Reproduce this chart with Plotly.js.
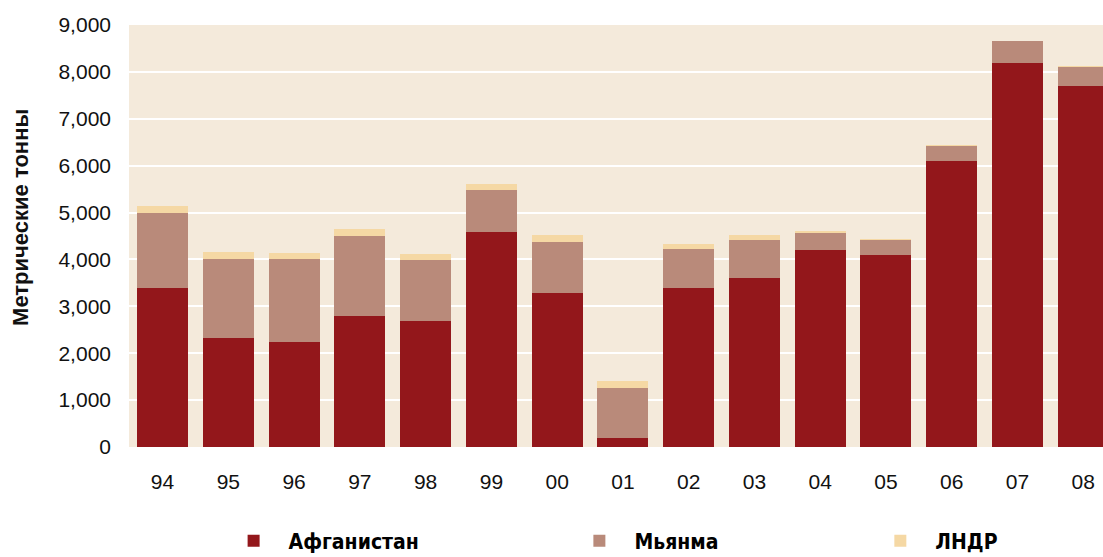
<!DOCTYPE html>
<html>
<head>
<meta charset="utf-8">
<script src="https://cdn.plot.ly/plotly-3.0.1.min.js"></script>
<style>
  html, body { margin: 0; padding: 0; background: #fff; }
  #chart { width: 1103px; height: 557px; }
</style>
</head>
<body>
<div id="chart"></div>
<script>
const years = ['94', '95', '96', '97', '98', '99', '00', '01', '02', '03', '04', '05', '06', '07', '08'];
const afghanistan = [3400, 2330, 2248, 2800, 2693, 4575, 3276, 185, 3400, 3600, 4200, 4100, 6100, 8200, 7700];
const myanmar = [1600, 1670, 1760, 1690, 1303, 897, 1087, 1080, 828, 810, 370, 312, 315, 460, 410];
const laos = [130, 150, 140, 150, 124, 129, 167, 150, 112, 120, 43, 14, 20, 9, 10];
const yTicks = [0, 1000, 2000, 3000, 4000, 5000, 6000, 7000, 8000, 9000];

const COLORS = ['#93171b', '#b98a7a', '#f5d8a4'];
const legendFont = {
    family: '"Liberation Sans Narrow", "Arial Narrow", "DejaVu Sans Condensed", "Liberation Sans", sans-serif',
    size: 21,
    color: '#000',
    weight: 'bold'
};

function buildBar(values, name, color, legend) {
    return {
        x: years,
        y: values,
        name,
        type: 'bar',
        marker: { color, line: { width: 0 } },
        legend,
        hoverinfo: 'x+y+name'
    };
}

function buildLegend(x) {
    return {
        orientation: 'h',
        x,
        xanchor: 'left',
        y: -0.2227,
        yanchor: 'middle',
        font: legendFont,
        itemwidth: 60,
        bgcolor: 'rgba(0,0,0,0)'
    };
}

const traces = [
    buildBar(afghanistan, 'Афганистан', COLORS[0], 'legend'),
    buildBar(myanmar, 'Мьянма', COLORS[1], 'legend2'),
    buildBar(laos, 'ЛНДР', COLORS[2], 'legend3')
];

const layout = {
    width: 1103,
    height: 557,
    margin: { l: 129, r: 0, t: 25, b: 110, autoexpand: false },
    paper_bgcolor: '#ffffff',
    plot_bgcolor: '#f4eadb',
    barmode: 'stack',
    bargap: 0.224,
    font: { family: '"Liberation Sans", Arial, sans-serif', size: 21, color: '#111' },
    xaxis: {
        type: 'category',
        range: [-0.51, 14.3],
        automargin: false,
        showgrid: false,
        zeroline: false,
        showline: false,
        ticks: '',
        ticklabelstandoff: 20,
        tickfont: { size: 21, color: '#111' },
        fixedrange: true
    },
    yaxis: {
        range: [0, 9000],
        automargin: false,
        tickvals: yTicks,
        tickformat: ',d',
        showgrid: true,
        gridcolor: '#ffffff',
        gridwidth: 2,
        zeroline: false,
        showline: false,
        ticks: '',
        ticklabelstandoff: 17,
        tickfont: { size: 21, color: '#111' },
        fixedrange: true
    },
    // y title sits above the plot middle in the original, so it is an annotation
    annotations: [{
        text: 'Метрические тонны',
        xref: 'paper',
        yref: 'paper',
        x: -0.112,
        y: 0.545,
        xanchor: 'center',
        yanchor: 'middle',
        textangle: -90,
        showarrow: false,
        font: { size: 22, color: '#111', weight: 'bold' }
    }],
    showlegend: true,
    legend: buildLegend(0.092),
    legend2: buildLegend(0.447),
    legend3: buildLegend(0.756)
};

Plotly.newPlot('chart', traces, layout, {
    displaylogo: false,
    displayModeBar: false,
    staticPlot: true
});
</script>
</body>
</html>
